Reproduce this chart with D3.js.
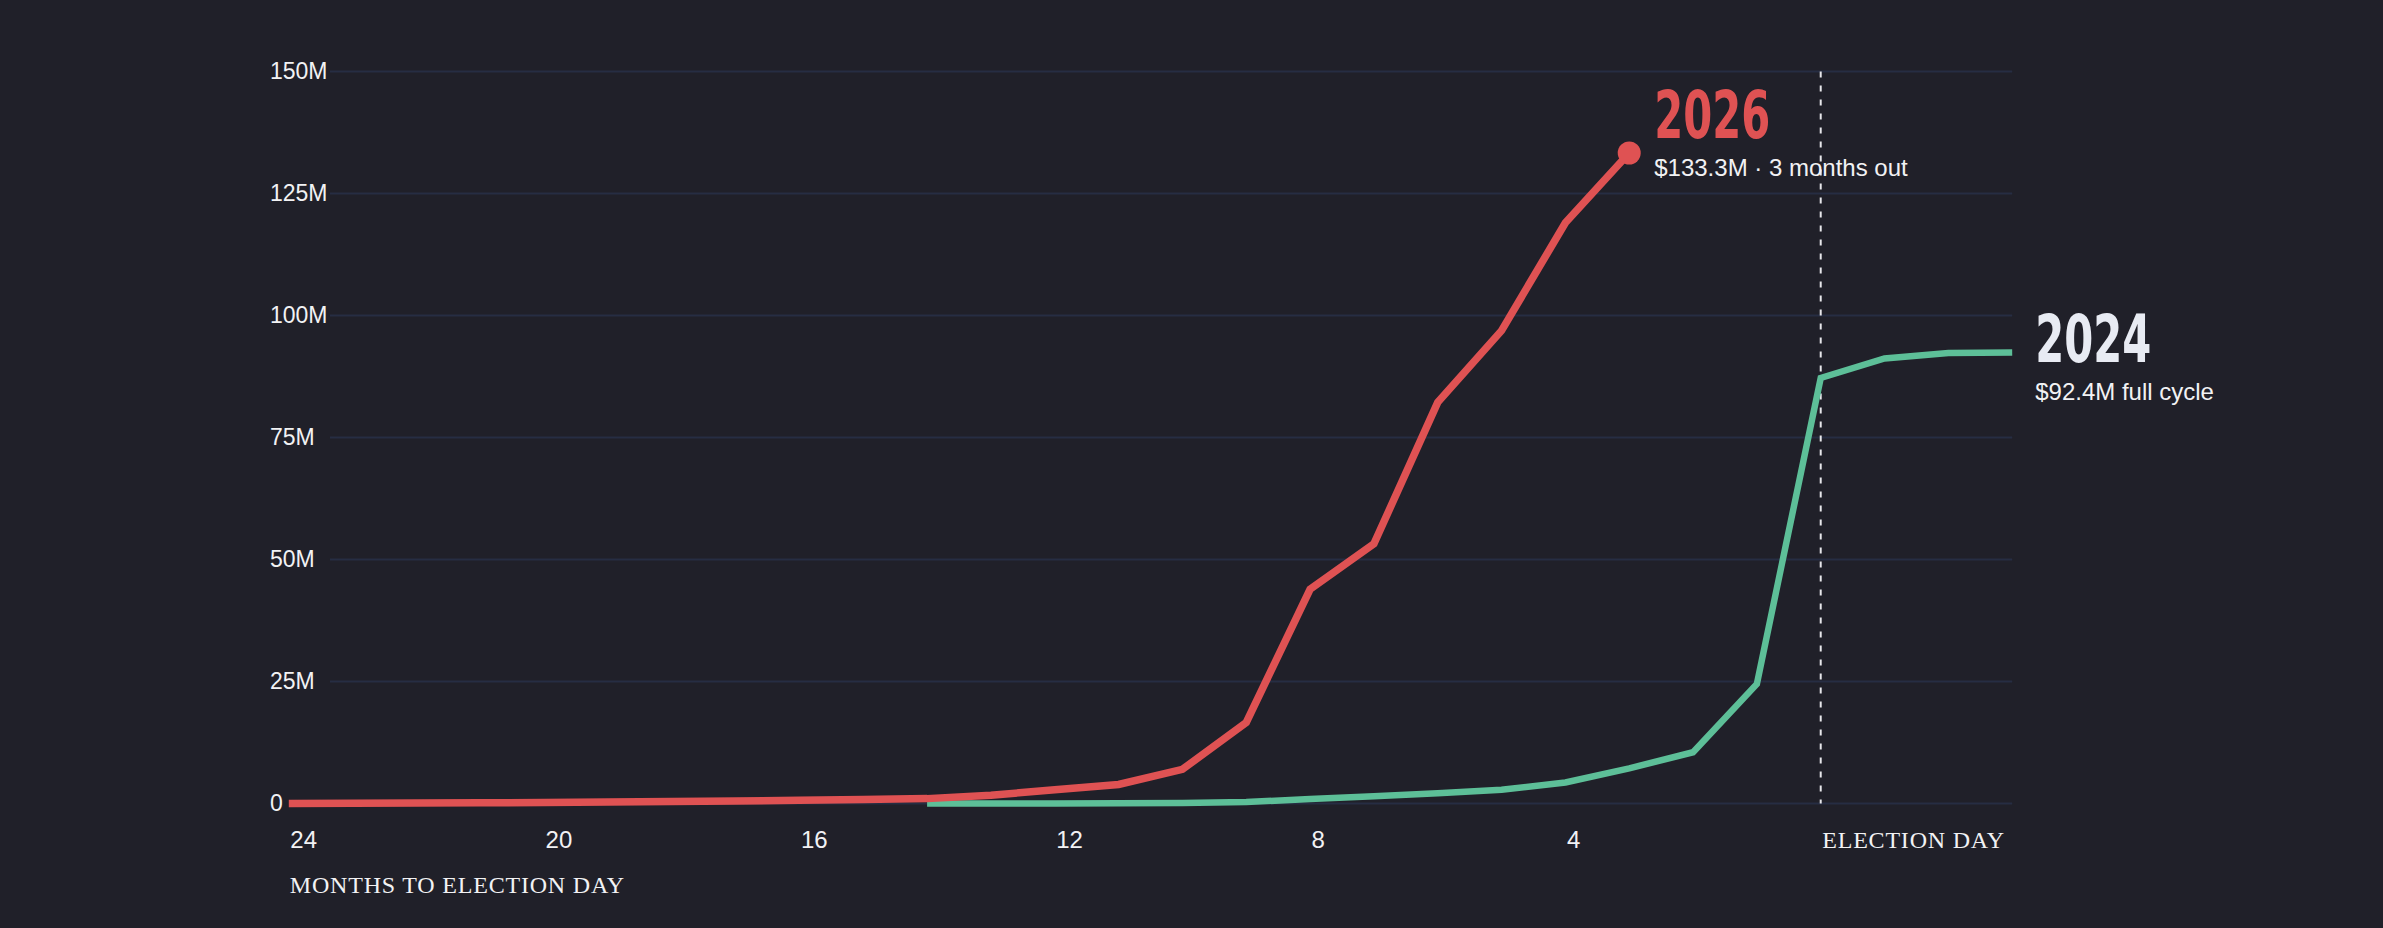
<!DOCTYPE html>
<html>
<head>
<meta charset="utf-8">
<script src="https://cdn.jsdelivr.net/npm/d3@7"></script>
<style>
  html, body { margin: 0; padding: 0; background: #202029; }
  svg { display: block; }
</style>
</head>
<body>
<svg id="vis"></svg>
<script>
(function() {
  // chart size
  var width = 2383,
    height = 928;

  // data (millions of dollars raised, months to election day)
  var months2026 = [24, 23, 22, 21, 20, 19, 18, 17, 16, 15, 14, 13, 12, 11, 10, 9, 8, 7, 6, 5, 4, 3];
  var raised2026 = [0, 0.05, 0.1, 0.15, 0.2, 0.3, 0.4, 0.5, 0.65, 0.8, 1.0, 1.7, 2.8, 3.9, 7.0, 16.6, 43.9, 53.2, 82.2, 96.9, 119.0, 133.3];

  var months2024 = [14, 13, 12, 11, 10, 9, 8, 7, 6, 5, 4, 3, 2, 1, 0, -1, -2, -3];
  var raised2024 = [0, 0, 0, 0.05, 0.1, 0.3, 0.9, 1.5, 2.1, 2.8, 4.3, 7.2, 10.5, 24.5, 87.2, 91.2, 92.3, 92.4];

  var yTicks = [0, 25, 50, 75, 100, 125, 150];
  var xTicks = [24, 20, 16, 12, 8, 4, 0];

  var labels2026 = ["2026", "$133.3M · 3 months out"];
  var labels2024 = ["2024", "$92.4M full cycle"];

  var red = "#df5253",
    green = "#5dbf98",
    gridColor = "#262d43",
    textColor = "#f2f2f4";

  var svg = d3.select("#vis")
    .attr("width", width)
    .attr("height", height);

  svg.append("rect")
    .attr("width", width)
    .attr("height", height)
    .attr("fill", "#202029");

  var x = d3.scaleLinear().domain([24, -3]).range([288.8, 2012.2]);
  var y = d3.scaleLinear().domain([0, 150]).range([803.5, 71.5]);

  //gridlines
  svg.append("g")
    .selectAll("line")
    .data(yTicks)
    .enter()
    .append("line")
    .attr("x1", 330)
    .attr("x2", x(-3))
    .attr("y1", function(d) { return y(d); })
    .attr("y2", function(d) { return y(d); })
    .attr("stroke", gridColor)
    .attr("stroke-width", 2);

  //y axis, labels left aligned
  var yAxis = svg.append("g")
    .attr("transform", "translate(270,0)")
    .call(d3.axisRight(y)
      .tickValues(yTicks)
      .tickSize(0)
      .tickPadding(0)
      .tickFormat(function(d) { return d === 0 ? "0" : d + "M"; }));
  yAxis.select(".domain").remove();
  yAxis.selectAll("text")
    .attr("fill", textColor)
    .attr("font-family", "'Liberation Sans', Arial, sans-serif")
    .attr("font-size", 23);

  //x axis
  var xAxis = svg.append("g")
    .attr("transform", "translate(0," + y(0) + ")")
    .call(d3.axisBottom(x)
      .tickValues(xTicks)
      .tickSize(0)
      .tickPadding(27.5)
      .tickFormat(function(d) { return d === 0 ? "ELECTION DAY" : d; }));
  xAxis.select(".domain").remove();
  xAxis.selectAll("text")
    .attr("fill", textColor)
    .attr("text-anchor", "start")
    .attr("x", 1)
    .attr("font-family", function(d) {
      return d === 0 ? "'Liberation Serif', 'Times New Roman', serif" : "'Liberation Sans', Arial, sans-serif";
    })
    .attr("letter-spacing", function(d) { return d === 0 ? 0.8 : 0; })
    .attr("font-size", 24);

  svg.append("text")
    .attr("x", x(24) + 1)
    .attr("y", 893)
    .attr("fill", textColor)
    .attr("font-family", "'Liberation Serif', 'Times New Roman', serif")
    .attr("font-size", 24)
    .attr("letter-spacing", 0.8)
    .text("MONTHS TO ELECTION DAY");

  //election day marker
  svg.append("line")
    .attr("x1", x(0))
    .attr("x2", x(0))
    .attr("y1", y(150))
    .attr("y2", y(0))
    .attr("stroke", "#e6e6ea")
    .attr("stroke-width", 2)
    .attr("stroke-dasharray", "6,8");

  var line = d3.line()
    .x(function(d) { return x(d[0]); })
    .y(function(d) { return y(d[1]); });

  var data2024 = d3.zip(months2024, raised2024);
  var data2026 = d3.zip(months2026, raised2026);

  svg.append("path")
    .datum(data2024)
    .attr("d", line)
    .attr("fill", "none")
    .attr("stroke", green)
    .attr("stroke-width", 6.5);

  svg.append("path")
    .datum(data2026)
    .attr("d", line)
    .attr("fill", "none")
    .attr("stroke", red)
    .attr("stroke-width", 7.5);

  var last2026 = data2026[data2026.length - 1];
  var last2024 = data2024[data2024.length - 1];

  svg.append("circle")
    .attr("cx", x(last2026[0]))
    .attr("cy", y(last2026[1]))
    .attr("r", 11.5)
    .attr("fill", red);

  //end labels
  function endLabel(lx, ly, texts, color) {
    var g = svg.append("g");
    g.append("text")
      .attr("x", lx)
      .attr("y", ly - 15)
      .attr("fill", color)
      .attr("font-family", "'Liberation Sans Narrow', 'DejaVu Sans Condensed', sans-serif")
      .attr("font-weight", "bold")
      .attr("font-size", 66)
      .attr("textLength", 116)
      .attr("lengthAdjust", "spacingAndGlyphs")
      .text(texts[0]);
    g.append("text")
      .attr("x", lx)
      .attr("y", ly + 23.5)
      .attr("fill", textColor)
      .attr("font-family", "'Liberation Sans', Arial, sans-serif")
      .attr("font-size", 24)
      .text(texts[1]);
  }

  endLabel(x(last2026[0]) + 25, y(last2026[1]), labels2026, red);
  endLabel(x(last2024[0]) + 23, y(last2024[1]) + 24, labels2024, "#e8ebf3");

}());
</script>
</body>
</html>
